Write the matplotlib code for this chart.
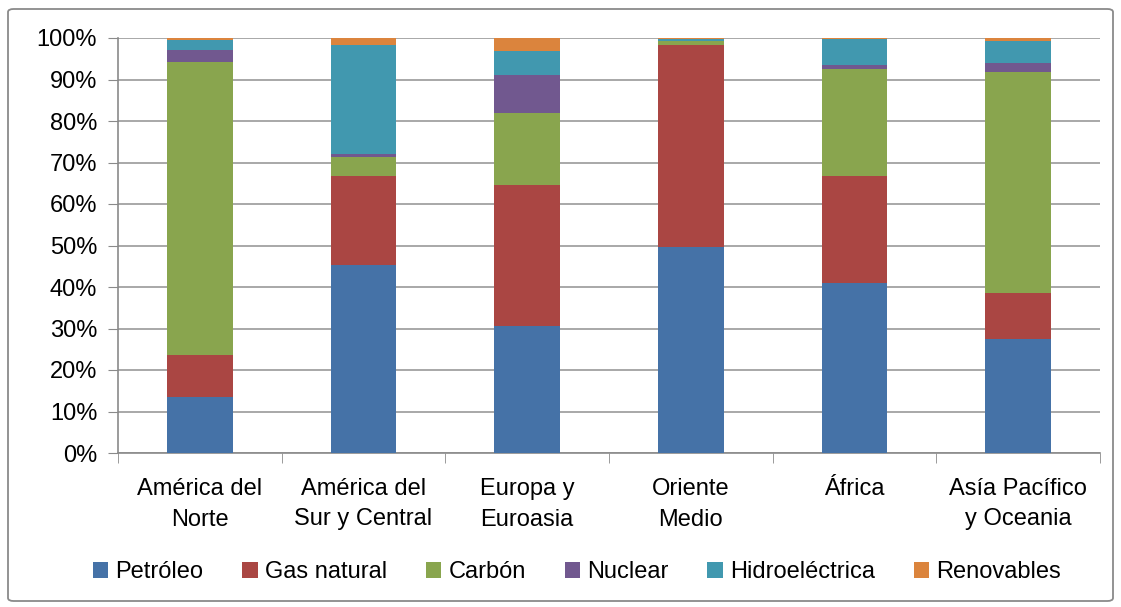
import numpy as np
import matplotlib.pyplot as plt
from matplotlib.patches import FancyBboxPatch

plt.rcParams['font.family'] = ['Liberation Sans', 'DejaVu Sans']

regions = ["América del\nNorte", "América del\nSur y Central", "Europa y\nEuroasia",
           "Oriente\nMedio", "África", "Asía Pacífico\ny Oceania"]
petroleo = [13.5, 45.3, 30.6, 49.6, 40.9, 27.4]
gas = [10.2, 21.5, 34.0, 48.6, 25.9, 11.1]
carbon = [70.5, 4.6, 17.3, 1.0, 25.8, 53.2]
nuclear = [2.8, 0.7, 9.2, 0.0, 0.9, 2.2]
hidro = [2.4, 26.2, 5.8, 0.6, 6.3, 5.3]
renovables = [0.6, 1.7, 3.1, 0.2, 0.2, 0.8]

series = [("Petróleo", petroleo, "#4572A7"),
          ("Gas natural", gas, "#AA4643"),
          ("Carbón", carbon, "#89A54E"),
          ("Nuclear", nuclear, "#71588F"),
          ("Hidroeléctrica", hidro, "#4198AF"),
          ("Renovables", renovables, "#DB843D")]

fs = 17

fig = plt.figure(figsize=(11.21, 6.07), dpi=100)
ax = fig.add_axes([118/1121, 1 - 453/607, (1100 - 118)/1121, (453 - 38)/607])

x = np.arange(len(regions))
bottom = np.zeros(len(regions))
for name, vals, col in series:
    v = np.array(vals) / 100
    ax.bar(x, v, 0.4, bottom=bottom, color=col, label=name, zorder=3)
    bottom += v

ax.set_xlim(-0.5, len(regions) - 0.5)
ax.set_ylim(0, 1)
ax.set_yticks(np.arange(0, 1.01, 0.1))
ax.yaxis.set_major_formatter(plt.FuncFormatter(lambda y, _: f"{y:.0%}"))
ax.grid(True, axis="y", color="#9a9a9a", linewidth=1.2, zorder=0)
ax.set_xticks(x)
ax.set_xticklabels(regions, fontsize=fs, linespacing=1.5)
ax.set_xticks(np.arange(-0.5, len(regions)), minor=True)
ax.tick_params(axis="x", which="major", length=0, pad=18)
ax.tick_params(axis="x", which="minor", length=7, color="#8a8a8a", direction="out")
ax.tick_params(axis="y", length=7, color="#8a8a8a", labelsize=fs, pad=8)
for s in ["top", "right"]:
    ax.spines[s].set_visible(False)
for s in ["left", "bottom"]:
    ax.spines[s].set_color("#8a8a8a")
    ax.spines[s].set_linewidth(1.2)

ax.legend(loc="center", bbox_to_anchor=(577/1121, 1 - 572/607), bbox_transform=fig.transFigure,
          ncol=6, frameon=False, fontsize=fs, handlelength=0.65, handleheight=0.65,
          handletextpad=0.3, columnspacing=1.65)

border = FancyBboxPatch((8/1121, 6/607), 1105/1121, 592/607, boxstyle="round,pad=0,rounding_size=0.005",
                        transform=fig.transFigure, fill=False, edgecolor="#8a8a8a", linewidth=1.3)
fig.patches.append(border)

fig.savefig("out.png", dpi=100)
plt.close(fig)
